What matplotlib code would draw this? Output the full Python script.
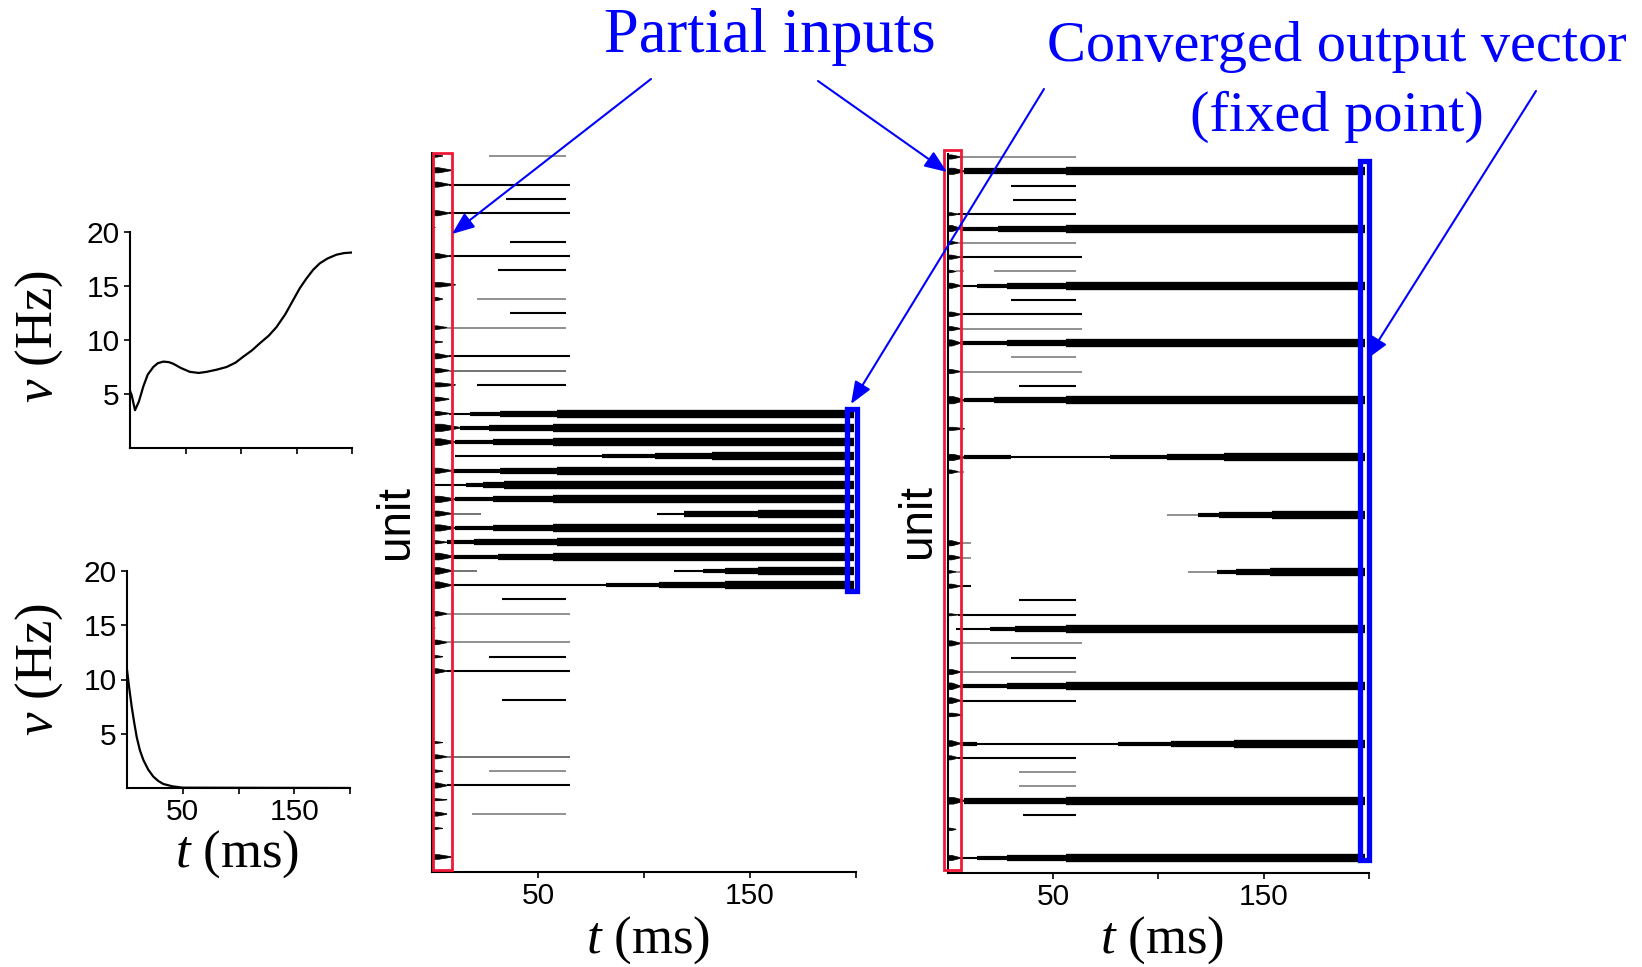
import matplotlib.pyplot as plt
from matplotlib.patches import Polygon, Rectangle
from matplotlib.collections import LineCollection

plt.rcParams['font.family'] = ['Liberation Sans', 'DejaVu Sans']
plt.rcParams['mathtext.fontset'] = 'custom'
plt.rcParams['mathtext.it'] = 'Liberation Serif:italic'
plt.rcParams['mathtext.rm'] = 'Liberation Serif'

W, H = 1642, 967

# rate of a unit that ends up in the fixed point (top left)
t_on = [0, 1.5, 4.5, 8, 12, 16, 21, 25, 30, 35, 39, 46, 54, 62, 69, 78, 87, 95, 102, 110,
        117, 125, 132, 140, 147, 153, 159, 165, 171, 178, 186, 193, 200]
v_on = [5.3, 4.9, 3.5, 4.3, 5.7, 6.8, 7.5, 7.85, 8.0, 7.95, 7.8, 7.4, 7.05, 6.95, 7.05, 7.25, 7.5,
        7.9, 8.45, 9.05, 9.7, 10.4, 11.2, 12.4, 13.7, 14.8, 15.7, 16.5, 17.1, 17.55, 17.9, 18.05, 18.1]

# rate of a unit that is switched off (bottom left)
t_off = [0, 2, 4.2, 6.5, 8.7, 11.5, 14.6, 19, 23.6, 28, 32.6, 41, 50, 200]
v_off = [10.9, 9.2, 7.5, 6.0, 4.7, 3.5, 2.6, 1.7, 1.05, 0.65, 0.37, 0.15, 0.03, 0]

# raster panels: (unit, t_start, t_end, activity level); level < 1 is a faint grey trace
mid_segments = [
    (1, 27, 63, 0.7), (3, 8, 65, 1), (4, 35, 63, 1), (5, 8, 65, 1), (7, 37, 63, 1),
    (8, 8, 65, 1), (9, 31, 63, 1), (11, 21, 63, 0.7), (12, 37, 63, 1), (13, 7, 63, 0.7),
    (15, 8, 65, 1), (16, 8, 63, 0.8), (17, 21, 63, 1),
    (19, 8, 18, 1), (19, 18, 32, 2), (19, 32, 59, 3), (19, 59, 199, 4),
    (20, 13, 27, 2), (20, 27, 57, 3), (20, 57, 199, 4),
    (21, 11, 29, 2), (21, 29, 57, 3), (21, 57, 199, 4),
    (22, 11, 80, 1), (22, 80, 105, 2), (22, 105, 132, 3), (22, 132, 199, 4),
    (23, 9, 32, 2), (23, 32, 59, 3), (23, 59, 199, 4),
    (24, 1, 16, 1), (24, 16, 24, 2), (24, 24, 34, 3), (24, 34, 199, 4),
    (25, 11, 29, 2), (25, 29, 57, 3), (25, 57, 199, 4),
    (26, 9, 23, 0.8), (26, 106, 119, 1), (26, 119, 154, 3), (26, 154, 199, 4),
    (27, 11, 29, 2), (27, 29, 57, 3), (27, 57, 199, 4),
    (28, 7, 20, 2), (28, 20, 59, 3), (28, 59, 199, 4),
    (29, 10, 31, 2), (29, 31, 57, 3), (29, 57, 199, 4),
    (30, 9, 21, 0.8), (30, 114, 128, 1), (30, 128, 138, 2), (30, 138, 154, 3), (30, 154, 199, 4),
    (31, 9, 82, 1), (31, 82, 107, 2), (31, 107, 138, 3), (31, 138, 199, 4),
    (32, 33, 63, 1), (33, 7, 65, 0.7), (35, 7, 65, 0.7), (36, 27, 63, 1), (37, 7, 65, 1),
    (39, 33, 63, 1), (43, 7, 65, 0.8), (44, 27, 63, 0.7), (45, 7, 65, 1), (47, 19, 63, 0.7),
]
# initial transients: (unit, duration ms, amplitude)
mid_blobs = [
    (1, 5, 0.5), (2, 9, 1.0), (3, 8, 1.0), (5, 8, 1.0), (6, 1.5, 0.3), (8, 8, 1.0),
    (10, 11, 0.9), (11, 5, 0.7), (13, 7, 0.7), (14, 5, 0.4), (15, 8, 1.0), (16, 8, 0.9),
    (17, 11, 0.8), (18, 8, 0.8), (19, 8, 0.8), (20, 13, 1.4), (21, 11, 1.3), (23, 9, 1.0),
    (25, 11, 1.2), (26, 9, 1.0), (27, 11, 1.2), (28, 7, 0.6), (29, 10, 1.3), (30, 9, 1.3),
    (31, 9, 1.3), (33, 7, 0.9), (34, 1.5, 0.3), (35, 7, 0.9), (36, 5, 0.5), (37, 7, 0.9),
    (42, 5, 0.4), (43, 7, 0.8), (44, 5, 0.5), (45, 7, 1.0), (46, 7, 0.4), (47, 7, 0.8),
    (48, 5, 0.4), (50, 9, 0.9),
]

right_segments = [
    (1, 6, 61, 0.7), (2, 8, 56, 3), (2, 56, 198, 4),
    (3, 30, 61, 1), (4, 31, 61, 1), (5, 5, 61, 1),
    (6, 6, 24, 2), (6, 24, 56, 3), (6, 56, 198, 4),
    (7, 5, 61, 0.7), (8, 6, 64, 1), (9, 4, 8, 0.7), (9, 22, 61, 0.7),
    (10, 6, 14, 1), (10, 14, 28, 2), (10, 28, 56, 3), (10, 56, 198, 4),
    (11, 30, 61, 1), (12, 6, 64, 1), (13, 6, 64, 0.7),
    (14, 6, 28, 2), (14, 28, 56, 3), (14, 56, 198, 4),
    (15, 30, 61, 0.7), (16, 6, 64, 0.7), (17, 34, 61, 1),
    (18, 8, 22, 2), (18, 22, 56, 3), (18, 56, 198, 4),
    (22, 8, 30, 2), (22, 30, 77, 1), (22, 77, 104, 2), (22, 104, 131, 3), (22, 131, 198, 4),
    (23, 5, 8, 0.7),
    (26, 104, 119, 0.7), (26, 119, 129, 2), (26, 129, 154, 3), (26, 154, 198, 4),
    (28, 6, 11, 0.7), (29, 6, 11, 0.7),
    (30, 4, 6, 0.7), (30, 114, 128, 0.7), (30, 128, 137, 2), (30, 137, 153, 3), (30, 153, 198, 4),
    (31, 6, 11, 1), (32, 34, 61, 1), (33, 5, 61, 1),
    (34, 4, 20, 1), (34, 20, 32, 2), (34, 32, 56, 3), (34, 56, 198, 4),
    (35, 6, 64, 0.7), (36, 30, 61, 1), (37, 6, 61, 0.7),
    (38, 6, 28, 2), (38, 28, 56, 3), (38, 56, 198, 4),
    (39, 6, 61, 1),
    (42, 6, 14, 2), (42, 14, 81, 1), (42, 81, 106, 2), (42, 106, 136, 3), (42, 136, 198, 4),
    (43, 5, 61, 1), (44, 34, 61, 0.7), (45, 34, 61, 0.7),
    (46, 8, 56, 3), (46, 56, 198, 4), (47, 36, 61, 1),
    (50, 6, 14, 1), (50, 14, 28, 2), (50, 28, 56, 3), (50, 56, 198, 4),
]
right_blobs = [
    (1, 6, 0.8), (2, 8, 1.2), (5, 5, 0.6), (6, 6, 1.2), (7, 5, 0.6), (8, 6, 0.8), (9, 4, 0.5),
    (10, 6, 1.0), (12, 6, 0.9), (13, 6, 0.8), (14, 6, 1.2), (16, 6, 0.8), (18, 8, 1.4),
    (20, 8, 0.6), (22, 8, 1.2), (23, 5, 0.7), (28, 6, 1.0), (29, 6, 0.9), (30, 4, 0.5),
    (31, 6, 0.8), (33, 5, 0.4), (35, 6, 1.0), (37, 6, 1.0), (38, 6, 1.3), (39, 6, 1.1),
    (40, 7, 0.7), (42, 6, 1.1), (43, 5, 0.8), (46, 8, 1.3), (48, 4, 0.5), (50, 6, 1.0),
]

t_ticks = [50, 100, 150, 200]
t_ticklabels = ['50', '', '150', '']
v_ticks = [5, 10, 15, 20]

fig = plt.figure(figsize=(W / 100, H / 100), dpi=100)


def axes_px(x0, x1, y0, y1):
    # y0 = top edge, y1 = bottom edge, in image pixels
    return fig.add_axes([x0 / W, 1 - y1 / H, (x1 - x0) / W, (y1 - y0) / H])


def fpt(x, y):
    return (x / W, 1 - y / H)


def style(ax):
    for s in ('top', 'right'):
        ax.spines[s].set_visible(False)
    for s in ('left', 'bottom'):
        ax.spines[s].set_linewidth(1.5)
    ax.tick_params(direction='out', length=4.5, width=1.2, labelsize=21.5, pad=3)
    ax.set_xlim(0, 200)
    ax.set_xticks(t_ticks)


serif = dict(family='Liberation Serif', fontsize=38)

# left: rate traces
ax1 = axes_px(130, 352, 232, 448)
ax1.plot(t_on, v_on, color='black', lw=1.6)
style(ax1)
ax1.set_ylim(0, 20)
ax1.set_yticks(v_ticks)
ax1.set_xticklabels([])
ax1.set_ylabel(r'$v$ (Hz)', va='center', **serif)
ax1.yaxis.set_label_coords(*fpt(39, 337), transform=fig.transFigure)

ax2 = axes_px(127, 350, 571, 788)
ax2.plot(t_off, v_off, color='black', lw=1.6)
style(ax2)
ax2.set_ylim(0, 20)
ax2.set_yticks(v_ticks)
ax2.set_xticklabels(t_ticklabels)
ax2.set_ylabel(r'$v$ (Hz)', va='center', **serif)
ax2.yaxis.set_label_coords(*fpt(39, 670), transform=fig.transFigure)
ax2.set_xlabel(r'$t$ (ms)', va='center', **serif)
ax2.xaxis.set_label_coords(*fpt(237, 854), transform=fig.transFigure)

# raster panels
row_gap = 14.306


def raster(x0, x1, y_top, y_bot, row1_y, segments, blobs, label_xy):
    ax = axes_px(x0, x1, y_top, y_bot)
    style(ax)
    ax.set_ylim(1 + (y_bot - row1_y) / row_gap, 1 + (y_top - row1_y) / row_gap)
    ax.set_yticks([])
    ax.set_xticklabels(t_ticklabels)
    ax.spines['left'].set_bounds(0.8, 1 + (y_bot - row1_y) / row_gap)

    lines, widths, colors = [], [], []
    for unit, t0, t1, level in segments:
        lines.append([(t0, unit), (t1, unit)])
        if level < 1:
            widths.append(1.1)
            colors.append(str(round(1.5 * (1 - level), 2)))
        else:
            widths.append(1.5 * level)
            colors.append('black')
    ax.add_collection(LineCollection(lines, linewidths=widths, colors=colors, capstyle='butt'))

    for unit, dur, amp in blobs:
        h = 0.18 * amp
        pts = [(0, unit - h), (0.35 * dur, unit - h), (dur, unit - 0.15 * h),
               (dur, unit + 0.15 * h), (0.35 * dur, unit + h), (0, unit + h)]
        ax.add_patch(Polygon(pts, closed=True, fc='black', ec='black', lw=0.5))

    ax.set_ylabel('unit', fontsize=33, va='center')
    ax.yaxis.set_label_coords(*fpt(*label_xy), transform=fig.transFigure)
    ax.set_xlabel(r'$t$ (ms)', va='center', **serif)
    ax.xaxis.set_label_coords(*fpt((x0 + x1) / 2 + 4, 940), transform=fig.transFigure)
    return ax


raster(432, 856, 145, 872, 156, mid_segments, mid_blobs, (396, 522))
raster(947.5, 1369, 146, 873, 157, right_segments, right_blobs, (918, 521))

# overlay for boxes, annotations and arrows, in image pixels
ov = fig.add_axes([0, 0, 1, 1], zorder=10)
ov.set_xlim(0, W)
ov.set_ylim(H, 0)
ov.axis('off')
ov.patch.set_alpha(0)

red = '#f01838'
ov.add_patch(Rectangle((433, 153), 19, 717, fill=False, ec=red, lw=2))
ov.add_patch(Rectangle((943.7, 150), 17, 720, fill=False, ec=red, lw=2))
ov.add_patch(Rectangle((846.5, 408.5), 10, 182, fill=False, ec='blue', lw=3.8))
ov.add_patch(Rectangle((1359.5, 160.5), 9, 699, fill=False, ec='blue', lw=3.8))

blue_txt = dict(family='Liberation Serif', color='blue', ha='center', va='baseline')
ov.text(770, 52, 'Partial inputs', fontsize=45, **blue_txt)
ov.text(1337, 61, 'Converged output vector', fontsize=42, **blue_txt)
ov.text(1337, 131, '(fixed point)', fontsize=42, **blue_txt)

arrows = [((651, 79), (452, 234)), ((818, 81), (947, 172)),
          ((1044, 89), (851, 404)), ((1536, 91), (1367, 359))]
for start, tip in arrows:
    ov.annotate('', xy=tip, xytext=start,
                arrowprops=dict(arrowstyle='-|>,head_length=0.68,head_width=0.27',
                                color='blue', lw=1.5, mutation_scale=20,
                                shrinkA=0, shrinkB=0))

fig.savefig('out.png', dpi=100)
